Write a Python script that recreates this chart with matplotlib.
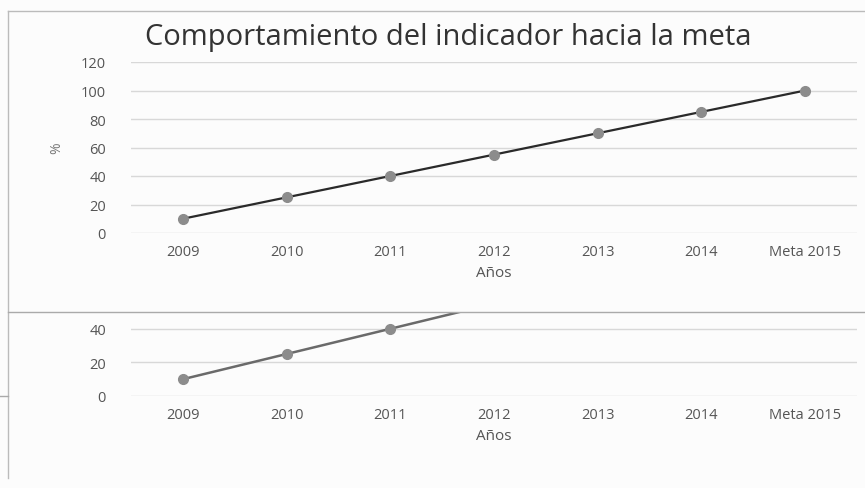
import matplotlib
matplotlib.use("Agg")
import matplotlib.pyplot as plt
from matplotlib.lines import Line2D

years = ["2009", "2010", "2011", "2012", "2013", "2014", "Meta 2015"]
values = [10, 25, 40, 55, 70, 85, 100]
top_ticks = [0, 20, 40, 60, 80, 100, 120]
bottom_ticks = [0, 20, 40]

plt.rcParams['font.family'] = ['Open Sans', 'DejaVu Sans']

W, H = 865, 489
fig = plt.figure(figsize=(W / 100, H / 100), dpi=100)
fig.patch.set_facecolor('#fcfcfc')

def px(x0, y0, x1, y1):
    # pixel box (left, top, right, bottom) -> figure fraction
    return [x0 / W, 1 - y1 / H, (x1 - x0) / W, (y1 - y0) / H]

def style(ax, ticks):
    ax.set_facecolor('none')
    for s in ax.spines.values():
        s.set_visible(False)
    ax.set_yticks(ticks)
    ax.yaxis.grid(True, color='#d8d8d8', linewidth=1)
    ax.set_axisbelow(True)
    ax.tick_params(length=0, colors='#555555', labelsize=10.5)
    ax.tick_params(axis='y', pad=18)
    ax.tick_params(axis='x', pad=8)
    ax.set_xlim(-0.5, len(years) - 0.5)
    ax.set_xticks(range(len(years)))
    ax.set_xticklabels(years)

x = list(range(len(years)))

# top chart
ax1 = fig.add_axes(px(131, 63, 857, 234))
style(ax1, top_ticks)
ax1.set_ylim(0, 120)
ax1.plot(x, values, color='#2a2a2a', linewidth=1.6, marker='o',
         markersize=7, markerfacecolor='#8c8c8c', markeredgecolor='#8c8c8c')
ax1.set_xlabel("Años", color='#555555', fontsize=11, labelpad=4)
ax1.set_ylabel("%", color='#777777', fontsize=10, labelpad=12)
fig.text(448 / W, 1 - 37 / H, "Comportamiento del indicador hacia la meta",
         fontsize=21, color='#333333', ha='center', va='center')

# bottom chart (cropped copy)
ax2 = fig.add_axes(px(131, 313, 857, 397))
style(ax2, bottom_ticks)
ax2.set_ylim(0, 50)
ax2.plot(x, values, color='#6a6a6a', linewidth=1.8, marker='o',
         markersize=7, markerfacecolor='#8c8c8c', markeredgecolor='#8c8c8c')
ax2.set_xlabel("Años", color='#555555', fontsize=11, labelpad=4)

# scan borders
fig.add_artist(Line2D([8 / W, 1], [1 - 12 / H, 1 - 12 / H], color='#bbbbbb', linewidth=1))
fig.add_artist(Line2D([8 / W, 8 / W], [0.02, 1 - 12 / H], color='#bbbbbb', linewidth=1))
fig.add_artist(Line2D([8 / W, 1], [1 - 313 / H, 1 - 313 / H], color='#aaaaaa', linewidth=1))
fig.add_artist(Line2D([0, 8 / W], [1 - 397 / H, 1 - 397 / H], color='#aaaaaa', linewidth=1))

fig.savefig("out.png", dpi=100, facecolor=fig.get_facecolor())
